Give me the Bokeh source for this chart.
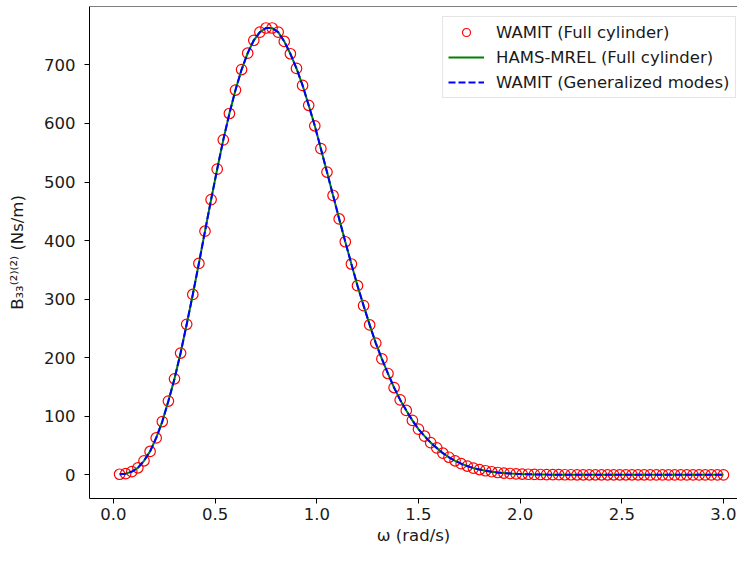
from bokeh.plotting import figure
from bokeh.models import Range1d, Span, PrintfTickFormatter, FixedTicker, Legend, LegendItem, ColumnDataSource
from bokeh.embed import file_html
from bokeh.resources import INLINE

# ---- data ----
omega = [round(0.03 * k, 2) for k in range(1, 101)]

wamit_b33 = [
    1, 2, 5.5, 12, 24, 40, 63, 91, 126, 164,
    208, 257, 308, 361, 416, 470, 522, 572, 617, 657,
    692, 720, 742, 756, 763, 763, 756, 740, 719, 694,
    665, 631, 596, 557, 517, 477, 437, 398, 360, 323,
    289, 256, 225, 198, 173, 149, 128, 110, 93, 78,
    66, 55, 46, 37, 30, 24, 19, 15, 11.5, 9,
    7, 5.3, 4, 3, 2.3, 1.7, 1.3, 1.0, 0.75, 0.55,
    0.4, 0.3, 0.22, 0.16, 0.12, 0.09, 0.07, 0.05, 0.04, 0.03,
    0.02, 0.02, 0.01, 0.01, 0.01, 0.01, 0.01, 0.0, 0.0, 0.0,
    0.0, 0.0, 0.0, 0.0, 0.0, 0.0, 0.0, 0.0, 0.0, 0.0,
]
hams_b33 = wamit_b33
gen_b33 = wamit_b33

x_ticks = [0.0, 0.5, 1.0, 1.5, 2.0, 2.5, 3.0]
y_ticks = [0, 100, 200, 300, 400, 500, 600, 700]

labels = ["WAMIT (Full cylinder)", "HAMS-MREL (Full cylinder)", "WAMIT (Generalized modes)"]

FONT = "DejaVu Sans"
FS = "16.5px"
TXT = "#1a1a1a"

y_top = 799.7
p = figure(width=737, height=548, output_backend="svg", toolbar_location=None,
           x_range=Range1d(-0.118, 3.069), y_range=Range1d(-40.4, y_top),
           min_border_left=89, min_border_right=0, min_border_top=6, min_border_bottom=50)
p.outline_line_color = None
p.xgrid.grid_line_color = None
p.ygrid.grid_line_color = None

src_w = ColumnDataSource(dict(x=omega, y=wamit_b33))
src_h = ColumnDataSource(dict(x=omega, y=hams_b33))
src_g = ColumnDataSource(dict(x=omega, y=gen_b33))

r_c = p.scatter("x", "y", source=src_w, marker="circle", size=10.5, fill_color=None,
                line_color="#ff0000", line_width=1.2)
r_g = p.line("x", "y", source=src_h, line_color="#008000", line_width=2)
r_b = p.line("x", "y", source=src_g, line_color="#0000ff", line_width=2, line_dash="7 3")

p.add_layout(Span(location=y_top, dimension="width", line_color="black", line_width=1))

for ax in (p.xaxis[0], p.yaxis[0]):
    ax.major_tick_in = 0
    ax.major_tick_out = 5
    ax.minor_tick_line_color = None
    ax.axis_line_color = "black"
    ax.major_tick_line_color = "black"
    ax.major_label_text_font = FONT
    ax.major_label_text_font_size = FS
    ax.major_label_text_color = TXT
    ax.axis_label_text_font = FONT
    ax.axis_label_text_font_size = FS
    ax.axis_label_text_font_style = "normal"
    ax.axis_label_text_color = TXT

p.xaxis.ticker = FixedTicker(ticks=x_ticks)
p.xaxis.formatter = PrintfTickFormatter(format="%.1f")
p.xaxis.major_label_standoff = 4
p.xaxis.axis_label = "ω (rad/s)"
p.xaxis.axis_label_standoff = 3

p.yaxis.ticker = FixedTicker(ticks=y_ticks)
p.yaxis.formatter = PrintfTickFormatter(format="%d")
p.yaxis.major_label_standoff = 9
p.yaxis.axis_label = "B₃₃⁽²⁾⁽²⁾ (Ns/m)"
p.yaxis.axis_label_standoff = 14

legend = Legend(items=[
    LegendItem(label=labels[0], renderers=[r_c]),
    LegendItem(label=labels[1], renderers=[r_g]),
    LegendItem(label=labels[2], renderers=[r_b]),
], location=(353, 400))
legend.label_text_font = FONT
legend.label_text_font_size = FS
legend.label_text_color = TXT
legend.glyph_width = 36
legend.glyph_height = 20
legend.spacing = 5
legend.padding = 5
legend.label_standoff = 12
legend.margin = 0
legend.border_line_color = "#cccccc"
legend.border_line_width = 1
legend.background_fill_alpha = 0.85
p.add_layout(legend)

open("out.html", "w").write(file_html(p, INLINE))
